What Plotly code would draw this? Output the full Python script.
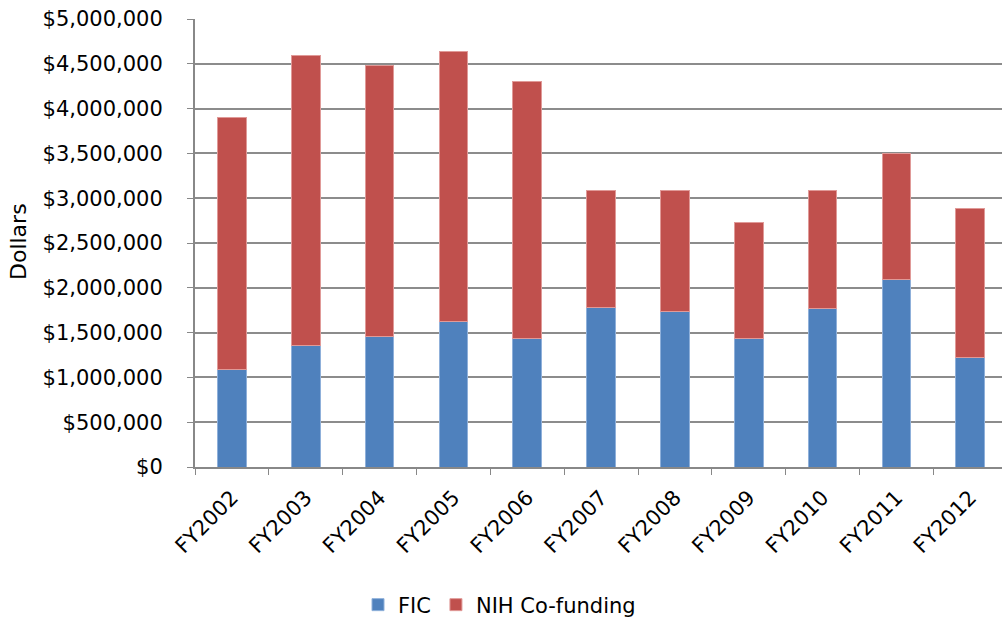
import plotly.graph_objects as go

years = ["FY2002", "FY2003", "FY2004", "FY2005", "FY2006", "FY2007",
         "FY2008", "FY2009", "FY2010", "FY2011", "FY2012"]
fic = [1090000, 1360000, 1460000, 1620000, 1430000, 1780000,
       1740000, 1430000, 1770000, 2095000, 1220000]
totals = [3900000, 4590000, 4480000, 4640000, 4300000, 3090000,
          3090000, 2730000, 3090000, 3500000, 2890000]
nih = [t - f for t, f in zip(totals, fic)]

tick_vals = [0, 500000, 1000000, 1500000, 2000000, 2500000, 3000000,
             3500000, 4000000, 4500000, 5000000]
tick_text = ["$0", "$500,000", "$1,000,000", "$1,500,000", "$2,000,000",
             "$2,500,000", "$3,000,000", "$3,500,000", "$4,000,000",
             "$4,500,000", "$5,000,000"]

FONT = "DejaVu Sans, sans-serif"
FS = 21
L, R, T, B = 195, 0, 19, 152
PW = 1002 - L - R
PH = 619 - T - B

fig = go.Figure()
fig.add_trace(go.Bar(x=years, y=fic, name="FIC",
                     marker=dict(color="#4F81BD", line=dict(color="#8FB0DA", width=1))))
fig.add_trace(go.Bar(x=years, y=nih, name="NIH Co-funding",
                     marker=dict(color="#C0504D", line=dict(color="#E09A98", width=1))))

fig.update_layout(
    barmode="stack",
    bargap=0.61,
    width=1002, height=619,
    margin=dict(l=L, r=R, t=T, b=B, autoexpand=False),
    plot_bgcolor="white", paper_bgcolor="white",
    font=dict(family=FONT, size=FS, color="#000000"),
    showlegend=True,
    legend=dict(orientation="h", x=(358 - L) / PW, xanchor="left",
                y=-(605 - 467) / PH, yanchor="middle",
                font=dict(size=FS), traceorder="normal", itemwidth=30),
    xaxis=dict(
        range=[-0.5, 10.43],
        tickangle=-45, showline=True, linecolor="#888888", linewidth=2,
        ticks="outside", tickson="boundaries", ticklen=6, tickcolor="#888888",
        tickfont=dict(size=FS), showgrid=False, automargin=False,
        ticklabelstandoff=8,
    ),
    yaxis=dict(
        range=[0, 5000000], tickvals=tick_vals, ticktext=tick_text,
        showline=True, linecolor="#888888", linewidth=2,
        ticks="outside", ticklen=6, tickcolor="#888888",
        showgrid=True, gridcolor="#8C8C8C", gridwidth=2,
        tickfont=dict(size=FS), zeroline=False, automargin=False,
        ticklabelstandoff=20,
    ),
    annotations=[dict(text="Dollars", xref="paper", yref="paper",
                      x=-(L - 19) / PW, y=(467 - 242) / PH, xanchor="center", yanchor="middle",
                      textangle=-90, showarrow=False, font=dict(size=22))],
)

fig.write_html("out.html", config={"displayModeBar": False},
               post_script="document.body.style.margin='0';document.body.style.overflow='hidden';")
